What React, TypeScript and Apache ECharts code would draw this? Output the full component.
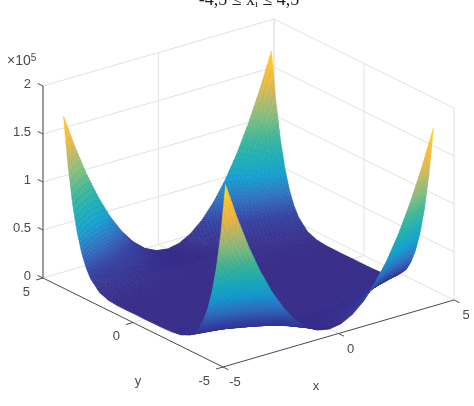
import React, { useEffect, useRef } from "react";
import * as echarts from "echarts";

const xGrid = [-4.5, -4, -3.5, -3, -2.5, -2, -1.5, -1, -0.5, 0, 0.5, 1, 1.5, 2, 2.5, 3, 3.5, 4, 4.5];
const yGrid = [-4.5, -4.25, -4, -3.75, -3.5, -3.25, -3, -2.5, -2, -1.5, -1, -0.5, 0, 0.5, 1, 1.5, 2, 2.5, 3, 3.25, 3.5, 3.75, 4, 4.25, 4.5];
const zRows = [
  [181853, 143873, 110337, 81244, 56597, 36392, 20632, 9315, 2443, 14, 2029, 8488, 19392, 34738, 54529, 78764, 107443, 140565, 178131],
  [130493, 103262, 79215, 58352, 40671, 26173, 14859, 6727, 1780, 14, 1432, 6033, 13817, 24785, 38935, 56268, 76785, 100484, 127367],
  [91932, 72769, 55844, 41155, 28705, 18492, 10516, 4778, 1277, 14, 989, 4200, 9650, 17336, 27261, 39423, 53822, 70459, 89334],
  [63465, 50254, 38582, 28452, 19862, 12811, 7301, 3333, 903, 14, 665, 2857, 6589, 11861, 18674, 27026, 36920, 48354, 61327],
  [42837, 33936, 26070, 19240, 13446, 8687, 4966, 2279, 629, 14, 435, 1893, 4386, 7915, 12480, 18080, 24718, 32390, 41099],
  [28203, 22357, 17188, 12698, 8887, 5754, 3302, 1527, 431, 14, 275, 1217, 2836, 5134, 8111, 11766, 16102, 21115, 26807],
  [18064, 14330, 11029, 8159, 5722, 3716, 2143, 1001, 292, 14, 168, 755, 1773, 3224, 5106, 7421, 10167, 13346, 16956],
  [6751, 5370, 4147, 3082, 2175, 1427, 836, 404, 130, 14, 56, 256, 614, 1131, 1805, 2638, 3627, 4776, 6083],
  [2211, 1769, 1377, 1033, 740, 496, 301, 156, 60, 14, 18, 70, 173, 324, 526, 777, 1077, 1427, 1827],
  [672, 544, 431, 332, 244, 172, 112, 66, 33, 14, 9, 16, 38, 72, 120, 182, 257, 346, 448],
  [250, 208, 170, 136, 105, 79, 57, 39, 24, 14, 8, 5, 7, 13, 23, 36, 54, 76, 102],
  [159, 134, 112, 92, 74, 58, 44, 32, 22, 14, 8, 4, 2, 2, 6, 10, 16, 24, 35],
  [132, 113, 96, 79, 65, 52, 40, 30, 21, 14, 9, 4, 2, 0, 1, 3, 6, 11, 18],
  [89, 77, 66, 56, 48, 39, 32, 25, 19, 14, 9, 7, 4, 1, 0, 0, 0, 1, 3],
  [14, 14, 14, 14, 14, 14, 14, 14, 14, 14, 14, 14, 14, 14, 14, 14, 14, 14, 14],
  [77, 55, 36, 22, 12, 5, 2, 1, 6, 14, 26, 41, 60, 83, 110, 140, 174, 211, 253],
  [969, 745, 551, 385, 250, 143, 67, 20, 2, 14, 56, 126, 227, 357, 516, 705, 923, 1171, 1449],
  [4477, 3493, 2632, 1892, 1275, 779, 405, 153, 23, 14, 127, 363, 719, 1199, 1799, 2522, 3366, 4333, 5421],
  [14277, 11204, 8503, 6174, 4218, 2633, 1420, 579, 111, 14, 289, 937, 1956, 3347, 5110, 7246, 9753, 12632, 15883],
  [23451, 18432, 14016, 10206, 6998, 4393, 2393, 996, 204, 14, 428, 1446, 3067, 5293, 8122, 11554, 15590, 20230, 25473],
  [36961, 29083, 22148, 16157, 11108, 7003, 3841, 1622, 347, 14, 625, 2178, 4675, 8115, 12498, 17825, 24094, 31307, 39463],
  [56296, 44333, 33798, 24689, 17008, 10755, 5929, 2530, 559, 14, 897, 3208, 6945, 12109, 18702, 26721, 36168, 47043, 59344],
  [83292, 65633, 50076, 36619, 25265, 16011, 8860, 3810, 861, 14, 1269, 4624, 10082, 17641, 27301, 39063, 52926, 68891, 86958],
  [120190, 94752, 72336, 52941, 36567, 23214, 12883, 5572, 1283, 14, 1767, 6540, 14335, 25152, 38989, 55847, 75726, 98626, 124548],
  [169680, 133818, 102208, 74851, 51746, 32894, 18296, 7949, 1855, 14, 2425, 9089, 20006, 35176, 54598, 78273, 106200, 138380, 174812],
];
const xTicks = [-5, 0, 5];
const yTicks = [5, 0, -5];
const zTicks = [0, 50000, 100000, 150000, 200000];
const zTickLabels = ["0", "0.5", "1", "1.5", "2"];
const parula = ["#352a87", "#33409f", "#2f70c0", "#149dcf", "#1caeb5", "#3fb596", "#7ebc7e", "#b9b866", "#f0b83f", "#fbc42b", "#f5e91f"];

const W = 474;
const H = 406;
const ZMAX = 181853;
const SUBX = 8;
const SUBY = 4;

function project(x: number, y: number, z: number): [number, number] {
  return [248.5 + 23.1 * x - 18 * y, 289 - 6.7 * x - 8.9 * y - 0.00096 * z];
}

function hex(c: string): number[] {
  return [parseInt(c.slice(1, 3), 16), parseInt(c.slice(3, 5), 16), parseInt(c.slice(5, 7), 16)];
}

function colorOf(z: number): string {
  const t = Math.max(0, Math.min(0.99999, z / ZMAX)) * (parula.length - 1);
  const i = Math.floor(t);
  const a = hex(parula[i]);
  const b = hex(parula[i + 1]);
  const f = t - i;
  return `rgb(${a.map((v, k) => Math.round(v + (b[k] - v) * f)).join(",")})`;
}

function surfPoint(j: number, i: number, u: number, v: number): [number, number, number] {
  const x = xGrid[i] + (xGrid[i + 1] - xGrid[i]) * u;
  const y = yGrid[j] + (yGrid[j + 1] - yGrid[j]) * v;
  const z0 = zRows[j][i] + (zRows[j][i + 1] - zRows[j][i]) * u;
  const z1 = zRows[j + 1][i] + (zRows[j + 1][i + 1] - zRows[j + 1][i]) * u;
  return [x, y, z0 + (z1 - z0) * v];
}

type Seg = { a: [number, number, number]; b: [number, number, number] };

function gridSegments(): Seg[] {
  const s: Seg[] = [];
  zTicks.forEach((z) => {
    if (z === 0) return;
    s.push({ a: [-5, 5, z], b: [5, 5, z] });
    s.push({ a: [5, 5, z], b: [5, -5, z] });
  });
  s.push({ a: [-5, 5, 0], b: [5, 5, 0] });
  s.push({ a: [5, 5, 0], b: [5, -5, 0] });
  xTicks.forEach((x) => {
    s.push({ a: [x, 5, 0], b: [x, 5, 200000] });
    if (x === 0) s.push({ a: [x, 5, 0], b: [x, -5, 0] });
  });
  yTicks.forEach((y) => {
    s.push({ a: [5, y, 0], b: [5, y, 200000] });
    if (y === 0) s.push({ a: [-5, y, 0], b: [5, y, 0] });
  });
  return s;
}

function axisSegments(): { a: [number, number]; b: [number, number] }[] {
  const s: { a: [number, number]; b: [number, number] }[] = [];
  s.push({ a: project(-5, 5, 0), b: project(-5, 5, 200000) });
  s.push({ a: project(-5, 5, 0), b: project(-5, -5, 0) });
  s.push({ a: project(-5, -5, 0), b: project(5, -5, 0) });
  zTicks.forEach((z) => s.push({ a: project(-5, 5, z), b: project(-5, 5.3, z) }));
  yTicks.forEach((y) => s.push({ a: project(-5, y, 0), b: project(-5.3, y, 0) }));
  xTicks.forEach((x) => s.push({ a: project(x, -5, 0), b: project(x, -5.3, 0) }));
  return s;
}

type Lab = { t: string; p: [number, number]; dx: number; dy: number; align: string };

function labels(): Lab[] {
  const l: Lab[] = [];
  zTicks.forEach((z, i) => l.push({ t: zTickLabels[i], p: project(-5, 5, z), dx: -12, dy: -3, align: "right" }));
  yTicks.forEach((y) => l.push({ t: String(y), p: project(-5, y, 0), dx: -13, dy: 13, align: "right" }));
  xTicks.forEach((x) => l.push({ t: String(x), p: project(x, -5, 0), dx: 12, dy: 14.5, align: "center" }));
  l.push({ t: "x", p: project(0, -5, 0), dx: -22.5, dy: 51.5, align: "center" });
  l.push({ t: "y", p: project(-5, 0, 0), dx: 5, dy: 57.5, align: "center" });
  return l;
}

export default function App() {
  const ref = useRef<HTMLDivElement>(null);
  useEffect(() => {
    document.body.style.margin = "0";
    const chart = echarts.init(ref.current!, undefined, { renderer: "svg" });

    const cells: number[][] = [];
    for (let j = yGrid.length - 2; j >= 0; j--) {
      for (let i = xGrid.length - 2; i >= 0; i--) {
        for (let b = SUBY - 1; b >= 0; b--) {
          for (let a = SUBX - 1; a >= 0; a--) cells.push([j, i, b, a]);
        }
      }
    }
    const segs = gridSegments();
    const ax = axisSegments();
    const labs = labels();
    const font = "Liberation Sans";

    chart.setOption({
      animation: false,
      backgroundColor: "#ffffff",
      grid: { left: 0, top: 0, right: 0, bottom: 0 },
      xAxis: { type: "value", min: 0, max: W, show: false },
      yAxis: { type: "value", min: 0, max: H, inverse: true, show: false },
      title: {
        text: "-4,5 ≤ xᵢ ≤ 4,5",
        left: 244,
        top: -15,
        textAlign: "center",
        textStyle: { fontFamily: "Liberation Serif", fontSize: 18, fontWeight: "normal", color: "#222222" },
      },
      series: [
        {
          type: "custom",
          coordinateSystem: "cartesian2d",
          silent: true,
          clip: false,
          z: 1,
          data: segs.map((_, k) => [k]),
          renderItem: (_p: any, api: any) => {
            const s = segs[api.value(0)];
            const a = api.coord(project(s.a[0], s.a[1], s.a[2]));
            const b = api.coord(project(s.b[0], s.b[1], s.b[2]));
            return {
              type: "line",
              shape: { x1: a[0], y1: a[1], x2: b[0], y2: b[1] },
              style: { stroke: "#e2e2e2", lineWidth: 1, fill: "none" },
            };
          },
        },
        {
          type: "custom",
          coordinateSystem: "cartesian2d",
          silent: true,
          clip: false,
          z: 2,
          progressive: 0,
          data: cells,
          renderItem: (_p: any, api: any) => {
            const j = api.value(0);
            const i = api.value(1);
            const b = api.value(2);
            const a = api.value(3);
            const us = [a / SUBX, (a + 1) / SUBX];
            const vs = [b / SUBY, (b + 1) / SUBY];
            const q = [
              surfPoint(j, i, us[0], vs[0]),
              surfPoint(j, i, us[1], vs[0]),
              surfPoint(j, i, us[1], vs[1]),
              surfPoint(j, i, us[0], vs[1]),
            ];
            const c = colorOf((q[0][2] + q[1][2] + q[2][2] + q[3][2]) / 4);
            return {
              type: "polygon",
              shape: { points: q.map((p) => api.coord(project(p[0], p[1], p[2]))) },
              style: { fill: c, stroke: c, lineWidth: 0.5 },
            };
          },
        },
        {
          type: "custom",
          coordinateSystem: "cartesian2d",
          silent: true,
          clip: false,
          z: 3,
          data: ax.map((_, k) => [k]),
          renderItem: (_p: any, api: any) => {
            const s = ax[api.value(0)];
            const a = api.coord(s.a);
            const b = api.coord(s.b);
            return {
              type: "line",
              shape: { x1: a[0], y1: a[1], x2: b[0], y2: b[1] },
              style: { stroke: "#4a4a4a", lineWidth: 1, fill: "none" },
            };
          },
        },
        {
          type: "custom",
          coordinateSystem: "cartesian2d",
          silent: true,
          clip: false,
          z: 4,
          data: labs.map((_, k) => [k]),
          renderItem: (_p: any, api: any) => {
            const l = labs[api.value(0)];
            const p = api.coord(l.p);
            return {
              type: "text",
              style: {
                text: l.t,
                x: p[0] + l.dx,
                y: p[1] + l.dy,
                align: l.align,
                verticalAlign: "middle",
                fontFamily: font,
                fontSize: 13,
                fill: "#4a4a4a",
              },
            };
          },
        },
      ],
      graphic: [
        {
          type: "text",
          x: 7,
          y: 52,
          style: {
            text: "×10{s|5}",
            fontFamily: font,
            fontSize: 14,
            fill: "#4a4a4a",
            rich: { s: { fontFamily: font, fontSize: 10, fill: "#4a4a4a", verticalAlign: "top", padding: [0, 0, 6, 0] } },
          },
        },
      ],
    });
    return () => chart.dispose();
  }, []);
  return <div ref={ref} style={{ position: "absolute", left: 0, top: 0, width: W, height: H, filter: "blur(0.45px)" }} />;
}
